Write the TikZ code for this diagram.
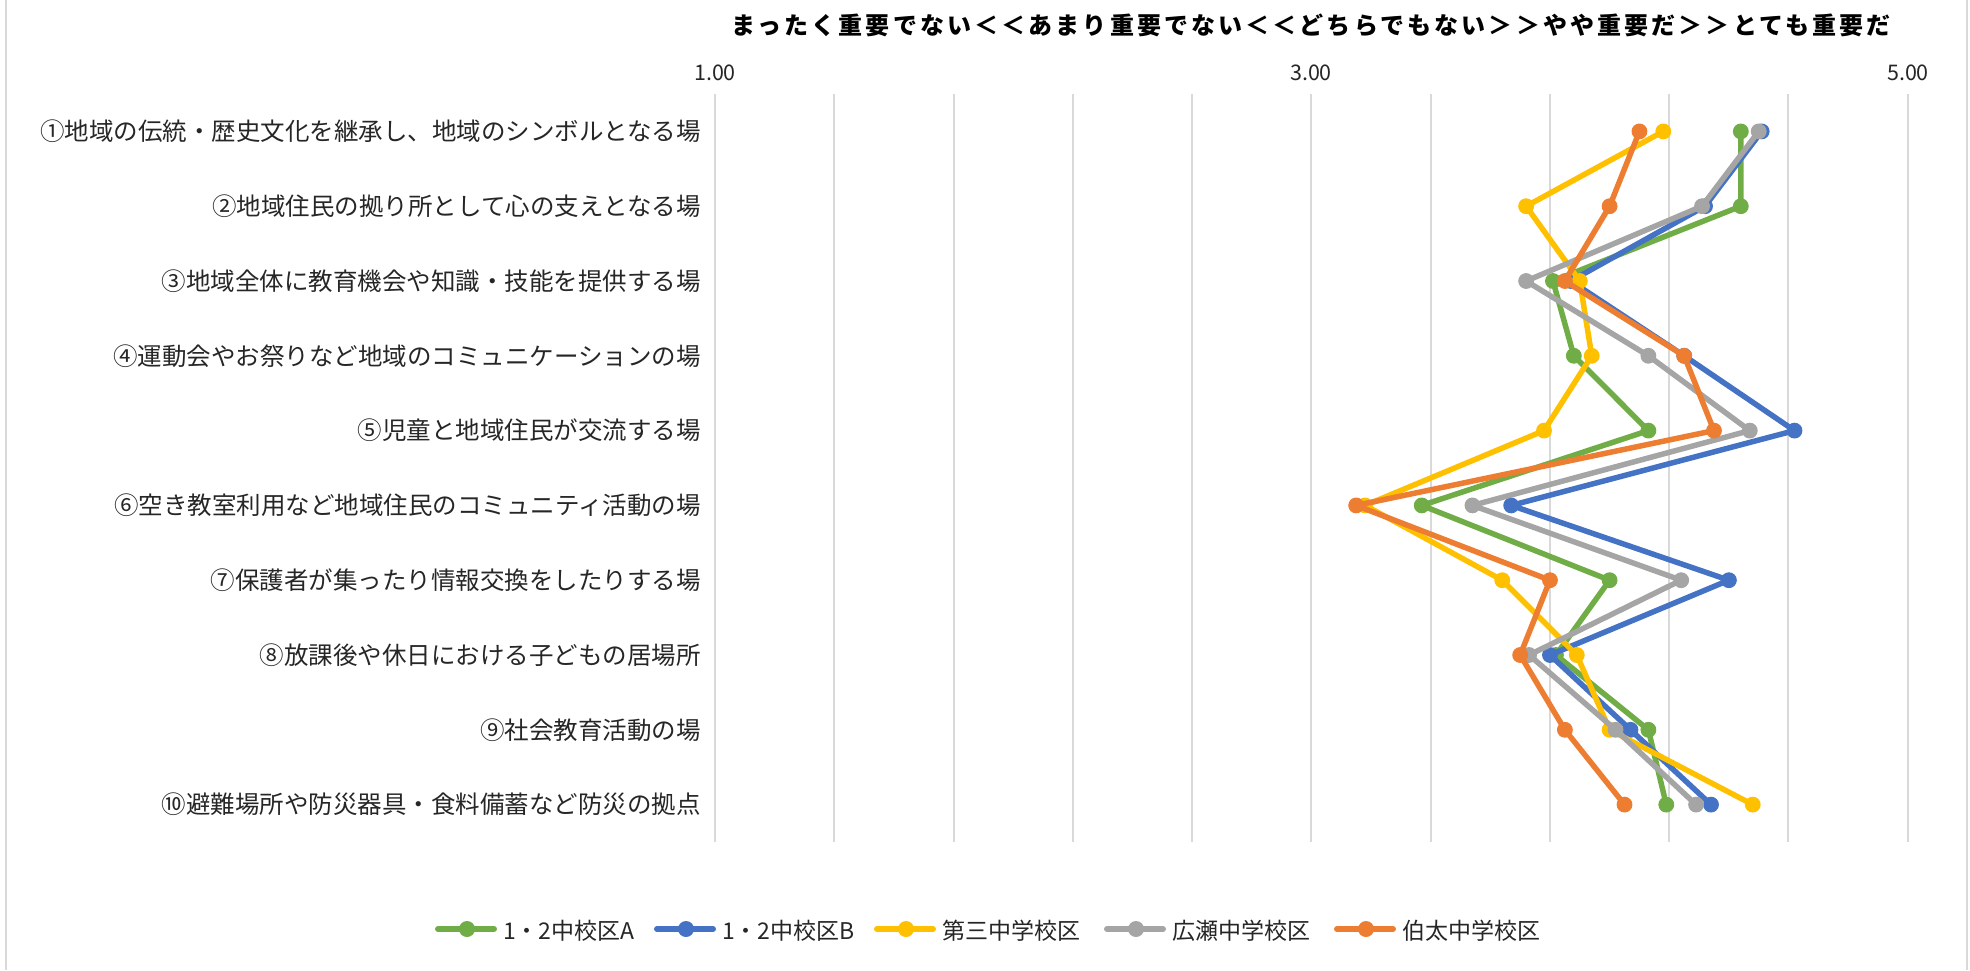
\documentclass[tikz,border=0pt]{standalone}
\usepackage{fontspec}
\setmainfont{Noto Sans CJK JP}
\definecolor{cA}{HTML}{70AD47}
\definecolor{cB}{HTML}{4472C4}
\definecolor{cC}{HTML}{FFC000}
\definecolor{cD}{HTML}{A5A5A5}
\definecolor{cE}{HTML}{ED7D31}
\definecolor{gridgray}{HTML}{D9D9D9}
\begin{document}
\begin{tikzpicture}[x=1pt,y=-1pt,
    lab/.style={anchor=east,inner sep=0pt,text=black!85,font=\fontsize{24.5}{28}\selectfont},
    tick/.style={inner sep=0pt,text=black!85,font=\fontsize{21.5}{24}\selectfont},
    legtext/.style={anchor=west,inner sep=0pt,text=black!85,font=\fontsize{23}{26}\selectfont},
    series/.style={color=#1,line width=5.5pt,line join=round,mark=*,mark size=7.4pt,mark options={line width=1pt}}]
  \useasboundingbox (0,0) rectangle (1970,970);
  \draw[gridgray,line width=2pt](6,0)--(6,970);
  \draw[gridgray,line width=2pt](1967,0)--(1967,970);
  % title and value axis
  \node[inner sep=0pt,font=\fontsize{24}{28}\selectfont\bfseries\addfontfeatures{LetterSpace=13}] (title) at (1311,25)
    {まったく重要でない＜＜あまり重要でない＜＜どちらでもない＞＞やや重要だ＞＞とても重要だ};
  \foreach \i in {0,...,10}
    \draw[gridgray,line width=2pt]({715+119.27*\i},94)--({715+119.27*\i},842);
  \node[tick] (t1) at (715,72.5) {1.00};
  \node[tick] (t3) at (1311,72.5) {3.00};
  \node[tick] (t5) at (1908,72.5) {5.00};
  % categories
  \foreach \i/\t in {1/①地域の伝統・歴史文化を継承し、地域のシンボルとなる場,
      2/②地域住民の拠り所として心の支えとなる場,
      3/③地域全体に教育機会や知識・技能を提供する場,
      4/④運動会やお祭りなど地域のコミュニケーションの場,
      5/⑤児童と地域住民が交流する場,
      6/⑥空き教室利用など地域住民のコミュニティ活動の場,
      7/⑦保護者が集ったり情報交換をしたりする場,
      8/⑧放課後や休日における子どもの居場所,
      9/⑨社会教育活動の場,
      10/⑩避難場所や防災器具・食料備蓄など防災の拠点}
    \node[lab] (r\i) at (701,{56.6+74.8*\i}) {\t};
  % data: x = mean score, y = item
  \begin{scope}[shift={(416.8,56.6)},x=298.2pt,y=-74.8pt]
    \draw[series=cA] plot coordinates {(4.44,1)(4.44,2)(3.81,3)(3.88,4)(4.13,5)(3.37,6)(4.00,7)(3.82,8)(4.13,9)(4.19,10)};
    \draw[series=cB] plot coordinates {(4.51,1)(4.32,2)(3.87,3)(4.25,4)(4.62,5)(3.67,6)(4.40,7)(3.80,8)(4.07,9)(4.34,10)};
    \draw[series=cC] plot coordinates {(4.18,1)(3.72,2)(3.90,3)(3.94,4)(3.78,5)(3.18,6)(3.64,7)(3.89,8)(4.00,9)(4.48,10)};
    \draw[series=cD] plot coordinates {(4.50,1)(4.31,2)(3.72,3)(4.13,4)(4.47,5)(3.54,6)(4.24,7)(3.73,8)(4.02,9)(4.29,10)};
    \draw[series=cE] plot coordinates {(4.10,1)(4.00,2)(3.85,3)(4.25,4)(4.35,5)(3.15,6)(3.80,7)(3.70,8)(3.85,9)(4.05,10)};
  \end{scope}
  % legend
  \foreach \x/\c/\t in {438/cA/1・2中校区A,657/cB/1・2中校区B,877/cC/第三中学校区,1107/cD/広瀬中学校区,1337/cE/伯太中学校区}{
    \draw[\c,line width=6pt,line cap=round](\x,929)--(\x+56,929);
    \fill[\c](\x+29,929) circle (8);
    \node[legtext] (leg\c) at (\x+65,931) {\t};
  }
\end{tikzpicture}
\end{document}
